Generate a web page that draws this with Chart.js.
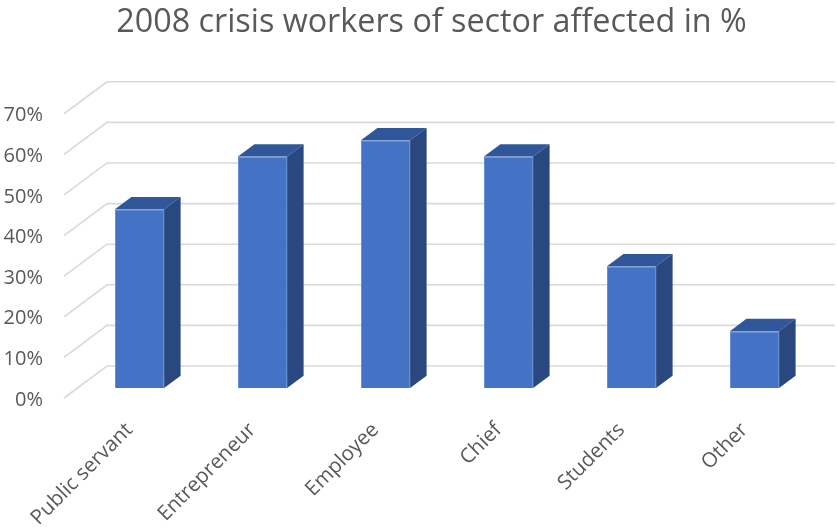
<!DOCTYPE html>
<html>
<head>
<meta charset="utf-8">
<title>2008 crisis workers of sector affected in %</title>
<script src="https://cdn.jsdelivr.net/npm/chart.js@4/dist/chart.umd.min.js"></script>
<style>
  body { margin: 0; background: #ffffff; }
  canvas { display: block; }
</style>
</head>
<body>
<canvas id="sectorChart" width="837" height="529"></canvas>
<script>
var sectors = ["Public servant", "Entrepreneur", "Employee", "Chief", "Students", "Other"];
var affected = [44, 57, 61, 57, 30, 14];
var percentTicks = [0, 10, 20, 30, 40, 50, 60, 70];

// fake 3D: depth of the back wall, where the front edge sits, depth of each column
var wallDepth = { dx: 43, dy: 32 };
var wallFront = { dx: -14, dy: 10 };
var boxDepth = { dx: 16.5, dy: 12.3 };

var textGrey = '#595959';

var columns3d = {
    id: 'columns3d',
    // title is centred over the plot, not the whole canvas
    afterLayout: function(chart) {
        var t = chart.titleBlock;
        t.left += 23.5;
        t.right += 23.5;
    },
    // grid lines run from the front edge back to the wall, then across it
    beforeDatasetsDraw: function(chart) {
        var ctx = chart.ctx;
        var xs = chart.scales.x, ys = chart.scales.y;
        ctx.save();
        ctx.strokeStyle = '#d9d9d9';
        ctx.lineWidth = 1.6;
        percentTicks.forEach(function(v) {
            var fx = xs.left + wallFront.dx;
            var fy = ys.getPixelForValue(v) + wallFront.dy;
            ctx.beginPath();
            ctx.moveTo(fx, fy);
            ctx.lineTo(fx + wallDepth.dx, fy - wallDepth.dy);
            ctx.lineTo(chart.width - 2, fy - wallDepth.dy);
            ctx.stroke();
        });
        ctx.restore();
    },
    // top and side faces on each column
    afterDatasetsDraw: function(chart) {
        var ctx = chart.ctx;
        ctx.save();
        chart.getDatasetMeta(0).data.forEach(function(bar) {
            var p = bar.getProps(['x', 'y', 'base', 'width'], true);
            var l = p.x - p.width / 2, r = p.x + p.width / 2;
            var dx = boxDepth.dx, dy = boxDepth.dy;

            ctx.fillStyle = '#30579a';
            ctx.beginPath();
            ctx.moveTo(l, p.y);
            ctx.lineTo(r, p.y);
            ctx.lineTo(r + dx, p.y - dy);
            ctx.lineTo(l + dx, p.y - dy);
            ctx.closePath();
            ctx.fill();

            ctx.fillStyle = '#2a4880';
            ctx.beginPath();
            ctx.moveTo(r, p.y);
            ctx.lineTo(r + dx, p.y - dy);
            ctx.lineTo(r + dx, p.base - dy);
            ctx.lineTo(r, p.base);
            ctx.closePath();
            ctx.fill();
        });
        ctx.restore();
    }
};

var ctx = document.getElementById('sectorChart').getContext('2d');

var barChart = new Chart(ctx, {
    type: 'bar',
    data: {
        labels: sectors,
        datasets: [{
            label: 'Affected',
            data: affected,
            backgroundColor: '#4472c4',
            borderColor: '#5b87d4',
            borderWidth: 1,
            barPercentage: 0.4,
            categoryPercentage: 1
        }]
    },
    plugins: [columns3d],
    options: {
        responsive: false,
        animation: false,
        layout: { padding: { left: 0, right: 21, top: 0, bottom: 0 } },
        plugins: {
            legend: { display: false },
            tooltip: { enabled: false },
            title: {
                display: true,
                text: '2008 crisis workers of sector affected in %',
                color: textGrey,
                font: { family: 'Open Sans', size: 32.3, weight: 'normal', lineHeight: 1.2 },
                padding: { top: 3, bottom: 62 }
            }
        },
        scales: {
            x: {
                grid: { display: false, drawTicks: false },
                border: { display: false },
                ticks: {
                    autoSkip: false,
                    minRotation: 45,
                    maxRotation: 45,
                    labelOffset: -10,
                    padding: 30,
                    color: textGrey,
                    font: { family: 'Open Sans', size: 20.5 }
                },
                afterFit: function(scale) {
                    scale.height = 141;
                    scale.paddingLeft = 0;
                    scale.paddingRight = 0;
                }
            },
            y: {
                min: 0,
                max: 70,
                grid: { display: false, drawTicks: false },
                border: { display: false },
                afterBuildTicks: function(scale) {
                    scale.ticks = percentTicks.map(function(v) { return { value: v }; });
                },
                ticks: {
                    padding: 35,
                    labelOffset: 12,
                    color: textGrey,
                    font: { family: 'Open Sans', size: 20 },
                    callback: function(value) { return value + '%'; }
                },
                afterFit: function(scale) {
                    scale.width = 78;
                    scale.paddingTop = 0;
                    scale.paddingBottom = 0;
                }
            }
        }
    }
});
</script>
</body>
</html>
